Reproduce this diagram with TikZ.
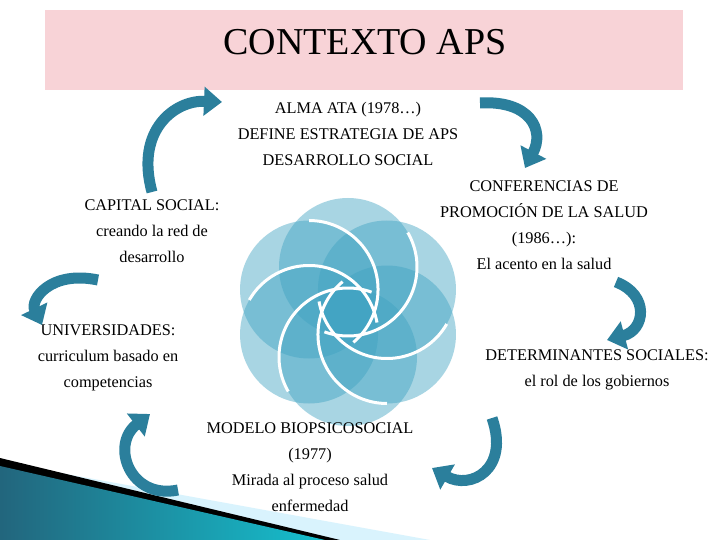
\documentclass[tikz,border=0pt]{standalone}
\usepackage{fontspec}
\setmainfont{Liberation Serif}
\usetikzlibrary{arrows.meta,calc}
\definecolor{pinkb}{HTML}{F8D3D7}
\definecolor{teal1}{HTML}{2B7F9C}
\definecolor{petal}{HTML}{3FA3C2}
\begin{document}
\begin{tikzpicture}[x=1pt,y=-1pt,
  lbl/.style={align=center,font=\fontsize{16.3}{26}\selectfont},
  carrow/.style={draw=teal1,line width=11pt,-{Triangle[width=28pt,length=18pt]}}]
\useasboundingbox (0,0) rectangle (720,540);
\fill[white] (0,0) rectangle (720,540);
% banner
\fill[pinkb] (45,10) rectangle (683,90);
\node[font=\fontsize{38}{44}\selectfont] (title) at (365,42) {CONTEXTO APS};
% bottom-left decoration
\fill[cyan!15!white] (0,462) -- (430,540) -- (0,540) -- cycle;
\fill[black] (0,458) -- (340,540) -- (0,540) -- cycle;
\shade[left color=teal1!80!black,right color=cyan!50!teal1] (0,466) -- (325,540) -- (0,540) -- cycle;
% flower
\coordinate (c) at (348,312);
\foreach \a in {90,150,210,270,330,30}{
  \fill[petal,fill opacity=0.45] ($(c)+(\a:45)$) circle (69);
}
\foreach \a in {30,90,150,210,270,330}{
  \draw[white,line width=3pt] ($(c)+(\a:45)$) ++(\a+60:69) arc[start angle=\a+60,end angle=\a+200,radius=69];
}
% texts
\node[lbl] (alma) at (348,134) {ALMA ATA (1978…)\\DEFINE ESTRATEGIA DE APS\\DESARROLLO SOCIAL};
\node[lbl] (conf) at (544,225) {CONFERENCIAS DE\\PROMOCIÓN DE LA SALUD\\(1986…):\\El acento en la salud};
\node[lbl] (cap) at (152,231) {CAPITAL SOCIAL:\\creando la red de\\desarrollo};
\node[lbl] (univ) at (108,358) {UNIVERSIDADES:\\curriculum basado en\\competencias};
\node[lbl] (det) at (597,370) {DETERMINANTES SOCIALES:\\el rol de los gobiernos};
\node[lbl] (mod) at (310,467) {MODELO BIOPSICOSOCIAL\\(1977)\\Mirada al proceso salud\\enfermedad};
% curved arrows
\coordinate (a1s) at (152,192); \coordinate (a1e) at (222,102);
\draw[carrow] (a1s) .. controls (135,130) and (175,100) .. (a1e);
\coordinate (a2s) at (480,103); \coordinate (a2e) at (525,168);
\draw[carrow] (a2s) .. controls (530,100) and (545,130) .. (a2e);
\coordinate (a3s) at (616,282); \coordinate (a3e) at (607,340);
\draw[carrow] (a3s) .. controls (650,295) and (645,330) .. (a3e);
\coordinate (a4s) at (492,418); \coordinate (a4e) at (432,468);
\draw[carrow] (a4s) .. controls (510,470) and (470,490) .. (a4e);
\coordinate (a5s) at (178,490); \coordinate (a5e) at (150,414);
\draw[carrow] (a5s) .. controls (130,500) and (110,445) .. (a5e);
\coordinate (a6s) at (98,280); \coordinate (a6e) at (42,325);
\draw[carrow] (a6s) .. controls (50,270) and (30,300) .. (a6e);
\end{tikzpicture}
\end{document}
